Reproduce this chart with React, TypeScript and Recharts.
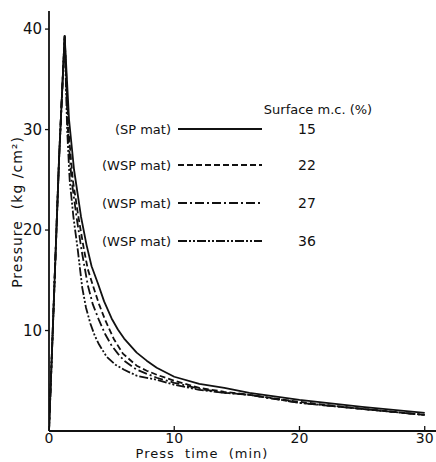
import React from "react";
import { LineChart, Line, XAxis, YAxis } from "recharts";

const xTicks = [0, 10, 20, 30];
const yTicks = [10, 20, 30, 40];

const rise = [
  { t: 0, p: 0 },
  { t: 0.3, p: 10 },
  { t: 0.8, p: 27 },
  { t: 1.25, p: 39.3 },
];

const mc15 = [
  ...rise,
  { t: 1.6, p: 31 }, { t: 2.0, p: 26 }, { t: 2.56, p: 21.3 }, { t: 3.0, p: 18.5 },
  { t: 3.4, p: 16.4 }, { t: 3.9, p: 14.7 }, { t: 4.4, p: 12.9 }, { t: 5, p: 11.2 },
  { t: 5.5, p: 10.1 }, { t: 6, p: 9.2 }, { t: 7, p: 7.8 }, { t: 7.8, p: 7.0 },
  { t: 8.6, p: 6.3 }, { t: 10, p: 5.4 }, { t: 12, p: 4.7 }, { t: 14, p: 4.3 },
  { t: 16, p: 3.8 }, { t: 20, p: 3.1 }, { t: 25, p: 2.4 }, { t: 30, p: 1.8 },
];

const mc22 = [
  ...rise,
  { t: 1.55, p: 30 }, { t: 1.9, p: 25 }, { t: 2.35, p: 21.3 }, { t: 2.8, p: 18 },
  { t: 3.1, p: 16.1 }, { t: 3.5, p: 14.5 }, { t: 4.0, p: 12.6 }, { t: 4.5, p: 11 },
  { t: 5.2, p: 9.1 }, { t: 5.9, p: 7.7 }, { t: 7, p: 6.5 }, { t: 7.8, p: 6.0 },
  { t: 8.6, p: 5.6 }, { t: 10, p: 5.0 }, { t: 12, p: 4.3 }, { t: 14, p: 3.9 },
  { t: 16, p: 3.6 }, { t: 20, p: 2.9 }, { t: 25, p: 2.2 }, { t: 30, p: 1.6 },
];

const mc27 = [
  ...rise,
  { t: 1.5, p: 30 }, { t: 1.8, p: 25 }, { t: 2.2, p: 21.3 }, { t: 2.6, p: 18 },
  { t: 3.1, p: 14.5 }, { t: 3.5, p: 12.6 }, { t: 4, p: 11 }, { t: 4.5, p: 9.6 },
  { t: 5, p: 8.5 }, { t: 5.5, p: 7.7 }, { t: 6, p: 7.0 }, { t: 7, p: 6.1 },
  { t: 8.6, p: 5.3 }, { t: 10, p: 4.8 }, { t: 12, p: 4.2 }, { t: 14, p: 3.8 },
  { t: 16, p: 3.6 }, { t: 20, p: 2.8 }, { t: 25, p: 2.2 }, { t: 30, p: 1.6 },
];

const mc36 = [
  ...rise,
  { t: 1.45, p: 30 }, { t: 1.65, p: 25 }, { t: 1.95, p: 21.3 }, { t: 2.3, p: 18 },
  { t: 2.65, p: 14.3 }, { t: 2.95, p: 12.3 }, { t: 3.3, p: 10.7 }, { t: 3.65, p: 9.5 },
  { t: 4, p: 8.6 }, { t: 4.6, p: 7.4 }, { t: 5.3, p: 6.6 }, { t: 6, p: 6.1 },
  { t: 7, p: 5.5 }, { t: 8.6, p: 5.1 }, { t: 10, p: 4.6 }, { t: 12, p: 4.1 },
  { t: 14, p: 3.8 }, { t: 16, p: 3.6 }, { t: 20, p: 2.8 }, { t: 25, p: 2.2 }, { t: 30, p: 1.6 },
];

const legendMats = ["(SP mat)", "(WSP mat)", "(WSP mat)", "(WSP mat)"];
const legendMC = ["15", "22", "27", "36"];
const dashes = ["", "6 3", "9 3 2 3", "9 2 2 2 2 2"];
const seriesData = [mc15, mc22, mc27, mc36];

const FONT = "DejaVu Sans, sans-serif";

const XTick = (props: any) => {
  const { x, y, payload } = props;
  return (
    <g>
      <line x1={x} x2={x} y1={y} y2={y - 5} stroke="#111" strokeWidth={1.3} />
      <text x={x} y={y + 12} textAnchor="middle" fontSize={14} fontFamily={FONT} fill="#111">
        {payload.value}
      </text>
    </g>
  );
};

export default function App() {
  const W = 436;
  const H = 462;
  return (
    <div style={{ position: "absolute", left: 0, top: 0, width: W, height: H, background: "#fff" }}>
      <LineChart width={W} height={H} margin={{ top: 11, right: 0, bottom: 0, left: 0 }}>
        <XAxis
          dataKey="t"
          type="number"
          domain={[0, 30.9]}
          ticks={xTicks}
          allowDataOverflow
          height={31}
          tickSize={0}
          tickMargin={0}
          tick={<XTick />}
          axisLine={{ stroke: "#111", strokeWidth: 1.8 }}
          tickLine={false}
        />
        <XAxis
          xAxisId="top"
          orientation="top"
          dataKey="t"
          type="number"
          domain={[0, 30.9]}
          height={0}
          tick={false}
          tickLine={false}
          axisLine={{ stroke: "#111", strokeWidth: 1.5 }}
        />
        <YAxis
          type="number"
          domain={[0, 41.8]}
          ticks={yTicks}
          allowDataOverflow
          width={49}
          tickSize={4}
          tickMargin={3}
          tick={{ fontSize: 15, fontFamily: FONT, fill: "#111" }}
          axisLine={{ stroke: "#111", strokeWidth: 1.8 }}
          tickLine={{ stroke: "#111", strokeWidth: 1.3 }}
        />
        {seriesData.map((d, i) => (
          <Line
            key={i}
            data={d}
            dataKey="p"
            type="linear"
            stroke="#111"
            strokeWidth={1.8}
            strokeLinejoin="round"
            strokeDasharray={dashes[i] || undefined}
            dot={false}
            isAnimationActive={false}
          />
        ))}
      </LineChart>
      <svg
        width={W}
        height={H}
        style={{ position: "absolute", left: 0, top: 0, pointerEvents: "none" }}
      >
        <text x={202} y={458} textAnchor="middle" fontSize={13} fontFamily={FONT} fill="#111" letterSpacing={1} style={{ whiteSpace: "pre" }}>
          Press  time  (min)
        </text>
        <text
          x={0}
          y={0}
          transform="translate(22,212) rotate(-90)"
          textAnchor="middle"
          fontSize={14}
          fontFamily={FONT}
          fill="#111"
          letterSpacing={1}
          style={{ whiteSpace: "pre" }}
        >
          Pressure  (kg /cm²)
        </text>
        <text x={318} y={114} textAnchor="middle" fontSize={13} fontFamily={FONT} fill="#111">
          Surface m.c. (%)
        </text>
        {legendMats.map((m, i) => {
          const yy = [129, 165, 203, 241][i];
          return (
            <g key={i}>
              <text x={171} y={yy + 5} textAnchor="end" fontSize={13} fontFamily={FONT} fill="#111">
                {m}
              </text>
              <line
                x1={178}
                x2={262}
                y1={yy}
                y2={yy}
                stroke="#111"
                strokeWidth={1.8}
                strokeDasharray={dashes[i] || undefined}
              />
              <text x={307} y={yy + 5} textAnchor="middle" fontSize={14} fontFamily={FONT} fill="#111">
                {legendMC[i]}
              </text>
            </g>
          );
        })}
      </svg>
    </div>
  );
}
